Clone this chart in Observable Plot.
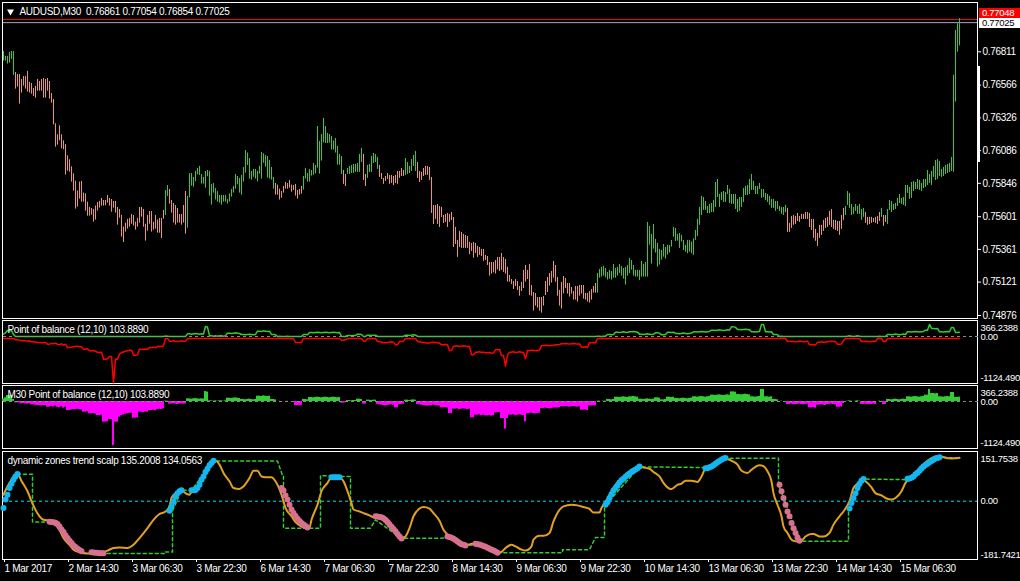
<!DOCTYPE html>
<html><head><meta charset="utf-8">
<script src="https://cdn.jsdelivr.net/npm/d3@7"></script>
<script src="https://cdn.jsdelivr.net/npm/@observablehq/plot@0.6"></script>
<style>
html,body{margin:0;padding:0;background:#000;}
#chart{position:relative;width:1020px;height:581px;background:#000;overflow:hidden;font-family:"Liberation Sans",Arial,sans-serif;}
#chart svg{position:absolute;left:0;}
#chart text{letter-spacing:-0.3px;}
.pbox{position:absolute;left:979px;width:41px;height:10px;font-size:9.5px;line-height:10px;padding-left:3px;box-sizing:border-box;letter-spacing:-0.3px;overflow:hidden;}
</style></head><body><div id="chart"></div>
<script>
// ---------- DATA ----------
const POINT = 0.00001;
const symbolName = "AUDUSD,M30";
const lastOpen = 0.76861, bidPrice = 0.77025, askPrice = 0.77048;
const priceTicks = [0.76811,0.76566,0.76326,0.76086,0.75846,0.75601,0.75361,0.75121,0.74876];
const timeTickBars = [0,32,64,96,128,160,192,224,256,288,320,352,384,416,448];
const timeLabels = ["1 Mar 2017","2 Mar 14:30","3 Mar 06:30","3 Mar 22:30","6 Mar 14:30","7 Mar 06:30","7 Mar 22:30","8 Mar 14:30","9 Mar 06:30","9 Mar 22:30","10 Mar 14:30","13 Mar 06:30","13 Mar 22:30","14 Mar 14:30","15 Mar 06:30"];

const highPts = [
76813,76777,76777,76806,76813,76813,76659,76645,76645,76608,
76630,76630,76667,76586,76579,76542,76557,76608,76593,76608,
76615,76608,76615,76593,76505,76461,76283,76202,76268,76202,
76158,76129,76048,76019,75967,75916,75862,75789,75855,75860,
75774,75769,75708,75669,75661,75654,75679,75705,75713,75735,
75720,75720,75757,75735,75727,75713,75713,75669,75654,75610,
75524,75554,75581,75588,75617,75610,75561,75588,75669,75669,
75654,75546,75610,75639,75639,75561,75610,75576,75588,75588,
75647,75793,75830,75801,75720,75698,75683,75661,75617,75617,
75683,75786,75750,75916,75918,75889,75933,75955,75970,75911,
75889,75933,75940,75933,75838,75845,75808,75786,75757,75757,
75757,75757,75727,75767,75801,75823,75911,75896,75882,75904,
75962,76087,76068,76028,75933,75948,75948,75933,75970,76072,
76063,76050,76043,76014,75962,75889,75845,75833,75803,75786,
75823,75852,75845,75867,75833,75830,75838,75793,75801,75823,
75896,75955,75918,75948,75940,75992,75977,76263,76153,76204,
76322,76263,76212,76204,76190,76156,76175,76116,76058,76043,
75940,75911,75955,75970,75977,75984,75984,75992,76058,76102,
76058,75911,75977,75984,76043,76065,76058,76036,75977,75918,
75882,75896,75918,75904,75904,75896,75904,75933,75933,75955,
75940,76028,75999,75970,76021,76050,76080,75999,75933,75926,
75955,75970,75970,75962,75889,75683,75683,75691,75676,75669,
75610,75617,75625,75617,75632,75595,75522,75427,75493,75485,
75471,75463,75456,75412,75405,75412,75405,75383,75375,75361,
75361,75317,75309,75265,75265,75265,75280,75302,75302,75331,
75302,75287,75229,75170,75140,75126,75140,75126,75089,75118,
75207,75243,75207,75251,75096,75045,75038,75008,75008,75008,
75016,75126,75155,75184,75199,75273,75243,75155,75060,75118,
75162,75148,75111,75111,75082,75052,75089,75089,75096,75096,
75096,75038,75038,75052,75067,75089,75111,75184,75214,75229,
75236,75221,75192,75207,75199,75251,75221,75229,75251,75236,
75221,75229,75243,75295,75280,75243,75207,75207,75207,75273,
75251,75265,75559,75529,75471,75544,75434,75405,75361,75353,
75397,75375,75390,75390,75427,75522,75515,75471,75478,75464,
75427,75390,75427,75427,75415,75439,75500,75581,75669,75750,
75742,75713,75676,75691,75698,75720,75852,75874,75764,75779,
75786,75779,75830,75801,75764,75764,75764,75728,75742,75742,
75808,75823,75830,75874,75911,75860,75823,75823,75845,75801,
75801,75772,75764,75750,75728,75728,75713,75713,75676,75669,
75669,75684,75662,75552,75603,75610,75603,75625,75603,75618,
75618,75632,75632,75625,75581,75581,75508,75478,75537,75537,
75574,75588,75596,75640,75654,75574,75574,75566,75566,75610,
75662,75676,75786,75772,75691,75669,75691,75676,75691,75654,
75662,75632,75596,75596,75596,75588,75596,75603,75632,75662,
75610,75610,75654,75720,75713,75691,75698,75735,75764,75735,
75742,75830,75830,75816,75852,75860,75852,75874,75867,75845,
75874,75874,75940,75911,75933,75970,76014,76021,76007,75948,
75963,75977,75985,75992,76036,76638,76968,77017,77054];

const lowPts = [
76743,76743,76721,76728,76755,76637,76537,76552,76427,76508,
76559,76537,76515,76508,76500,76483,76471,76522,76522,76522,
76471,76471,76522,76464,76434,76275,76111,76126,76158,76099,
76092,75906,75935,75928,75855,75789,75657,75671,75730,75708,
75708,75642,75605,75605,75612,75561,75576,75642,75664,75679,
75679,75681,75701,75679,75634,75664,75627,75539,75590,75451,
75412,75488,75510,75524,75546,75532,75502,75524,75554,75598,
75524,75422,75495,75546,75488,75502,75510,75480,75480,75441,
75583,75610,75750,75693,75627,75554,75539,75554,75554,75539,
75554,75473,75517,75740,75825,75818,75857,75908,75904,75840,
75840,75811,75894,75752,75686,75774,75723,75708,75701,75686,
75708,75708,75693,75708,75745,75774,75803,75835,75774,75759,
75855,75921,75977,75877,75869,75891,75877,75855,75913,75877,
75994,75965,75884,75877,75869,75803,75759,75759,75723,75737,
75774,75803,75803,75811,75781,75793,75752,75730,75759,75767,
75796,75877,75855,75855,75899,75906,75916,75957,75913,76009,
76143,76138,76138,76141,76090,76090,76068,75979,75979,75911,
75838,75823,75911,75911,75918,75918,75926,75926,75926,75999,
75867,75823,75882,75926,75926,75992,75999,75948,75889,75874,
75838,75860,75874,75838,75845,75830,75845,75838,75882,75896,
75896,75904,75911,75918,75933,75970,75933,75882,75852,75867,
75896,75904,75904,75867,75625,75544,75581,75544,75522,75595,
75551,75559,75522,75559,75573,75375,75397,75302,75375,75368,
75368,75368,75368,75322,75346,75297,75331,75302,75317,75309,
75273,75280,75243,75165,75180,75189,75180,75211,75199,75207,
75192,75180,75121,75121,75104,75067,75089,75060,75018,75052,
75074,75121,75140,75023,75018,74908,74945,74930,74908,74893,
74945,75023,75045,75092,75114,75150,75121,75018,74945,74923,
75035,75074,75033,75011,75033,74989,74989,74974,75018,75033,
74996,74989,74974,74967,74989,75040,75040,75040,75150,75158,
75165,75153,75136,75143,75136,75150,75150,75165,75184,75165,
75143,75099,75165,75184,75209,75165,75158,75158,75133,75158,
75158,75158,75158,75392,75253,75363,75334,75231,75246,75282,
75304,75290,75319,75334,75378,75451,75419,75422,75368,75415,
75353,75341,75329,75341,75329,75317,75427,75456,75537,75610,
75647,75647,75623,75623,75632,75632,75669,75742,75669,75720,
75706,75706,75764,75698,75691,75691,75654,75632,75640,75669,
75706,75757,75757,75764,75794,75794,75764,75764,75801,75735,
75742,75720,75706,75684,75662,75662,75640,75654,75640,75618,
75610,75630,75486,75486,75515,75537,75544,75566,75559,75581,
75581,75581,75581,75522,75500,75442,75420,75383,75442,75464,
75493,75515,75522,75537,75522,75508,75500,75493,75464,75508,
75574,75610,75684,75662,75610,75618,75640,75618,75618,75574,
75596,75552,75537,75544,75552,75559,75552,75544,75566,75596,
75530,75559,75544,75647,75632,75647,75654,75676,75698,75691,
75684,75676,75772,75728,75735,75786,75801,75801,75794,75786,
75808,75816,75830,75845,75830,75889,75867,75874,75896,75889,
75896,75911,75918,75926,75933,75928,76442,76809,76854];

const trendRuns = [[0,5,"up"],[6,80,"down"],[81,82,"up"],[83,91,"down"],[92,135,"up"],[136,149,"down"],[150,169,"up"],[170,171,"down"],[172,179,"up"],[180,181,"down"],[182,187,"up"],[188,200,"down"],[201,206,"up"],[207,296,"down"],[297,391,"up"],[392,420,"down"],[421,430,"up"],[431,438,"down"],[439,439,"up"],[440,441,"down"],[442,478,"up"]];

// Point of balance (12,10)
const balanceValues = [
60,90,147,140,147,50,-33,-33,-40,-57,
-50,-57,-65,-57,-81,-81,-90,-98,-98,-106,
-98,-98,-138,-138,-120,-130,-114,-140,-150,-130,
-163,-140,-220,-220,-212,-196,-196,-190,-196,-204,
-261,-261,-252,-301,-301,-293,-310,-342,-342,-335,
-505,-505,-497,-440,-440,-1080,-505,-505,-383,-342,
-330,-310,-300,-290,-285,-407,-407,-400,-261,-261,
-270,-255,-261,-220,-220,-212,-228,-196,-190,-196,
-180,10,8,-65,-65,-57,-65,-73,-65,-57,
-65,-60,65,65,57,65,73,65,57,65,
60,244,230,16,16,8,16,8,16,16,
8,16,81,81,73,81,90,81,73,49,
49,41,49,57,49,41,49,130,130,122,
138,130,122,130,49,49,41,0,4,0,
-4,0,4,0,-4,0,-98,-98,-106,-90,
49,49,41,98,98,90,98,106,98,90,
98,106,98,90,98,106,98,90,98,-41,
-41,-33,24,24,16,24,24,57,57,49,
-65,-65,33,33,24,33,33,-73,-81,-90,
-98,-106,-98,-90,-81,-90,-155,-155,-73,-73,
-65,33,33,24,33,41,33,-73,-81,-90,
-98,-106,-114,-106,-98,-90,-98,-106,-114,-155,
-155,-147,-155,-293,-293,-187,-187,-179,-196,-187,
-179,-187,-196,-187,-399,-399,-334,-334,-326,-342,
-334,-350,-350,-342,-358,-350,-277,-277,-269,-415,
-415,-676,-415,-334,-334,-326,-342,-334,-326,-334,
-342,-497,-293,-293,-285,-293,-301,-293,-285,-171,
-171,-163,-171,-179,-171,-163,-155,-155,-147,-130,
-130,-122,-130,-138,-130,-122,-130,-138,-130,-212,
-212,-204,-220,-106,-106,-98,-106,8,8,0,
8,8,49,49,41,49,106,106,98,106,
114,106,98,114,114,122,114,106,57,57,
49,57,65,57,49,57,90,90,82,40,
40,48,105,105,97,105,75,75,67,75,
83,75,67,75,83,115,115,107,115,123,
115,107,115,123,155,155,147,155,163,155,
147,155,163,155,235,235,227,170,170,162,
170,178,170,162,115,115,107,115,123,295,
295,115,115,107,115,50,50,42,0,8,
0,0,-73,-73,-65,-73,-81,-73,-65,-73,
-81,-73,-65,-155,-155,-147,-163,-90,-90,-82,
-90,-98,-73,-73,-65,-73,-81,-140,-140,-132,
-50,0,8,16,8,0,8,16,8,-73,
-73,-65,-73,-81,-73,-65,-73,0,8,0,
-73,-73,50,50,42,50,58,50,42,50,
58,50,115,115,107,115,123,115,107,115,
123,155,155,295,195,195,187,195,115,115,
107,115,123,115,220,220,100,100,103.889];
const balanceScale = [-1124.49, 366.2388];
const balanceAxisLabels = ["366.2388","0.00","-1124.490"];

// dynamic zones trend scalp
const dzBars = [0,2,4,6,7,9,12,14,16,18,20,23,25,28,30,33,35,38,40,44,48,52,55,58,62,65,68,72,75,78,81,83,84,86,88,89,91,93,94,97,99,102,104,106,108,110,113,115,118,120,123,125,127,129,131,134,136,139,141,144,146,149,151,153,154,157,159,162,164,167,168,170,172,174,175,178,180,183,185,187,190,193,195,198,199,201,203,205,208,210,213,215,218,220,222,224,227,229,232,234,237,239,242,244,247,249,251,254,256,259,261,264,265,268,270,273,275,278,280,284,287,290,293,295,298,299,301,304,306,309,312,315,318,320,323,325,328,330,333,334,337,339,341,344,347,349,351,354,358,360,364,367,369,372,374,378,380,382,384,385,387,389,390,392,394,396,399,401,404,405,408,410,413,415,418,420,423,425,428,429,431,434,436,439,441,444,446,449,451,454,456,459,462,465,468,470,474,476,478];
const dzValues = [20,46,67,83,86,63,31,0,-27,-47,-58,-61,-65,-89,-115,-136,-151,-159,-162,-163,-162,-154,-146,-144,-146,-136,-115,-84,-58,-40,-32,-16,10,25,31,33,25,20,29,36,62,93,119,126,114,88,62,41,38,46,72,95,95,77,75,75,62,20,-21,-47,-65,-79,-84,-82,-58,-11,31,57,75,75,75,62,31,-6,-26,-32,-37,-44,-50,-47,-50,-63,-89,-110,-117,-110,-84,-47,-23,-18,-23,-37,-61,-89,-104,-115,-127,-136,-136,-133,-136,-141,-148,-156,-162,-158,-146,-136,-141,-151,-154,-141,-120,-108,-108,-99,-63,-27,-16,-11,-13,-18,-24,-35,-35,-21,-3,31,51,72,88,101,108,105,101,91,77,57,39,38,51,55,64,64,60,77,103,112,126,135,126,114,95,88,98,112,109,93,62,25,-11,-47,-79,-99,-120,-125,-123,-110,-102,-102,-110,-110,-99,-73,-47,-32,0,41,60,70,62,43,25,18,10,5,10,31,57,72,88,109,126,137,141,137,133,134,135.2008];
const levelBars = [7,14.5,14.5,24,39,41,81,81,84.5,84.5,89,94,105,137,139.5,140,140,158.5,158.5,168,173.5,173.5,183.5,186,199,222,231,236,247,279.5,279.5,293,296,300.5,300.5,318,351,361,387.5,387.5,398.5,422.5,422.5,430,452,468.5,478];
const levelValues = [84,84,-65,-65,-156,-163,-163,-158,-158,-30,34,34,125,125,80,80,-84,-84,80,77,77,-84,-84,-58,-116,-115,-138,-136,-161,-161,-151,-151,-113,-113,-16,107,105,134,134,51,-125,-125,-26,69,67,137,134.0563];
const upDotRuns = [
  [0,[-21,5,20,41,54,67,77,85]],
  [83,[-30,-16,-1,15,25,31,34]],
  [94,[34,34,35,41,51,67,77,91,101,112,119,126]],
  [164,[75,75,75,75,75]],
  [301,[-11,-3,10,22,33,41,49,58,65,70,76,82,86,91,95,99,103,108]],
  [351,[103,103,106,108,112,117,121,125,129,133,135]],
  [423,[-23,-6,10,25,41,54,64,69]],
  [452,[70,71,73,77,84,89,95,102,108,113,117,121,125,129,133,135,137]]];
const downDotRuns = [
  [23,[-64,-65,-66,-67,-71,-79,-88,-96,-106,-115,-123,-130,-138,-143,-148,-152,-156]],
  [44,[-159,-160,-161,-161,-162,-162,-162]],
  [139,[41,33,18,5,-11,-26,-37,-46,-55,-62,-68,-73,-77,-82]],
  [186,[-47,-48,-49,-50,-53,-59,-66,-73,-80,-87,-94,-102,-110,-116]],
  [222,[-110,-112,-114,-117,-121,-126,-130,-134,-136,-138]],
  [236,[-133,-134,-135,-137,-140,-142,-145,-148,-151,-154,-157,-161]],
  [388,[51,31,10,-11,-32,-47,-68,-84,-99,-113,-123]]];
const dzScale = [-181.7421, 151.7538];
const dzAxisLabels = ["151.7538","0.00","-181.7421"];

// ---------- COLOURS ----------
const C = {up:"#32cd32", down:"#eca41e", red:"#ff0000", magenta:"#ff00ff", orange:"#e2a11c",
  cyan:"#12b6f0", pink:"#d8708f", zero:"#00e8f0", grey:"#8c8c8c", bid:"#a8a8b4"};

// ---------- BUILD ----------
const trendOf = i => trendRuns.find(r => i >= r[0] && i <= r[1])[2];
const bars = highPts.map((h, i) => ({i, high: h * POINT, low: lowPts[i] * POINT, color: trendOf(i) === "up" ? C.up : C.down}));
const bal = balanceValues.map((v, i) => ({i, v}));
const dz = dzBars.map((b, k) => ({i: b, v: dzValues[k]}));
const levels = levelBars.map((b, k) => ({i: b, v: levelValues[k]}));
const expand = runs => runs.flatMap(([s, vals]) => vals.map((v, k) => ({i: s + k, v})));
const upDots = expand(upDotRuns), downDots = expand(downDotRuns);

const W = 1020, ML = 3, MR = 43;
const xDomain = [0, 487];
const baseStyle = {background: "transparent", color: "#fff", fontFamily: "'Liberation Sans', Arial, sans-serif", fontSize: "10px", overflow: "visible"};
const frame = (o = {}) => Plot.frame({stroke: "#fff", insetLeft: -1, insetTop: -1, insetBottom: -1, ...o});
const chart = document.getElementById("chart");
function place(svg, top) { svg.style.top = top + "px"; chart.appendChild(svg); return svg; }

const last = bars[bars.length - 1];
const mainTitle = `${symbolName}  ${lastOpen.toFixed(5)} ${last.high.toFixed(5)} ${last.low.toFixed(5)} ${bidPrice.toFixed(5)}`;

const main = Plot.plot({
  width: W, height: 320, marginLeft: ML, marginRight: MR, marginTop: 3, marginBottom: 3,
  style: baseStyle,
  x: {domain: xDomain, axis: null},
  y: {domain: [0.748613, 0.771654], axis: null},
  marks: [
    frame(),
    Plot.ruleY([askPrice], {stroke: C.red}),
    Plot.ruleY([bidPrice], {stroke: C.bid}),
    Plot.ruleX(bars, {x: "i", y1: "low", y2: "high", stroke: "color"}),
    Plot.axisY(priceTicks, {anchor: "right", label: null, tickSize: 3, tickPadding: 2, tickFormat: d => d.toFixed(5), stroke: "#fff", fill: "#fff"}),
    Plot.dot([0], {frameAnchor: "top-left", dx: 7, dy: 8, symbol: "triangle", rotate: 180, r: 2.6, fill: "#fff", stroke: null}),
    Plot.text([mainTitle], {frameAnchor: "top-left", dx: 16, dy: 8, lineAnchor: "middle", textAnchor: "start", fill: "#fff"})
  ]
});
place(main, 0);

const balTitle = `Point of balance (12,10) ${balanceValues[balanceValues.length - 1].toFixed(4)}`;
function sideLabels(scale, labels) {
  const o = {anchor: "right", label: null, tickSize: 0, tickPadding: 3, fill: "#fff", fontSize: 9.5};
  return [
    Plot.axisY([scale[1]], {...o, dy: 6, tickFormat: () => labels[0]}),
    Plot.axisY([0], {...o, tickFormat: () => labels[1]}),
    Plot.axisY([scale[0]], {...o, dy: -5, tickFormat: () => labels[2]})
  ];
}
const p2 = Plot.plot({
  width: W, height: 67, marginLeft: ML, marginRight: MR, marginTop: 3, marginBottom: 3,
  style: baseStyle,
  x: {domain: xDomain, axis: null},
  y: {domain: balanceScale, axis: null},
  marks: [
    frame(),
    Plot.lineY(bal, {x: "i", y: d => Math.max(d.v, 0), stroke: C.up}),
    Plot.lineY(bal, {x: "i", y: d => Math.min(d.v, 0), stroke: C.red, dy: 2}),
    Plot.ruleY([0], {stroke: C.grey, strokeDasharray: "3,3", insetRight: -4}),
    ...sideLabels(balanceScale, balanceAxisLabels),
    Plot.text([balTitle], {frameAnchor: "top-left", dx: 4, dy: 8, lineAnchor: "middle", textAnchor: "start", fill: "#fff"})
  ]
});
place(p2, 318);

const p3 = Plot.plot({
  width: W, height: 67, marginLeft: ML, marginRight: MR, marginTop: 3, marginBottom: 3,
  style: baseStyle,
  x: {domain: xDomain, axis: null},
  y: {domain: balanceScale, axis: null},
  marks: [
    frame(),
    Plot.rectY(bal, {x1: d => d.i - 0.5, x2: d => d.i + 0.5, y: "v", fill: d => d.v >= 0 ? C.up : C.magenta}),
    Plot.ruleY([0], {stroke: C.grey, strokeDasharray: "3,3", insetRight: -4}),
    ...sideLabels(balanceScale, balanceAxisLabels),
    Plot.text(["M30 " + balTitle], {frameAnchor: "top-left", dx: 4, dy: 8, lineAnchor: "middle", textAnchor: "start", fill: "#fff"})
  ]
});
place(p3, 383);

const dzTitle = `dynamic zones trend scalp ${dzValues[dzValues.length - 1].toFixed(4)} ${levelValues[levelValues.length - 1].toFixed(4)}`;
const p4 = Plot.plot({
  width: W, height: 133, marginLeft: ML, marginRight: MR, marginTop: 4, marginBottom: 22,
  style: baseStyle,
  x: {domain: xDomain, axis: null},
  y: {domain: dzScale, axis: null},
  marks: [
    frame({insetBottom: 0}),
    Plot.ruleY([0], {stroke: C.zero, strokeDasharray: "3,3"}),
    Plot.line(levels, {x: "i", y: "v", stroke: C.up, strokeDasharray: "3,3"}),
    Plot.line(dz, {x: "i", y: "v", stroke: C.orange, strokeWidth: 2, curve: "monotone-x"}),
    Plot.dot(upDots, {x: "i", y: "v", r: 3, fill: C.cyan, stroke: null}),
    Plot.dot(downDots, {x: "i", y: "v", r: 3, fill: C.pink, stroke: null}),
    ...sideLabels(dzScale, dzAxisLabels),
    Plot.axisX(timeTickBars, {anchor: "bottom", label: null, tickSize: 3, tickPadding: 2, textAnchor: "start", dx: 1,
      tickFormat: d => timeLabels[timeTickBars.indexOf(d)], stroke: "#fff", fill: "#fff"}),
    Plot.text([dzTitle], {frameAnchor: "top-left", dx: 4, dy: 8, lineAnchor: "middle", textAnchor: "start", fill: "#fff"})
  ]
});
place(p4, 448);

// price labels on the right axis (ask box sits just above the bid box)
const yMain = main.scale("y");
const bidTop = yMain.apply(bidPrice) - 4.5;
function priceBox(price, top, bg, fg) {
  const d = document.createElement("div");
  d.className = "pbox";
  d.style.top = top + "px";
  d.style.background = bg; d.style.color = fg;
  d.textContent = price.toFixed(5);
  chart.appendChild(d);
}
priceBox(askPrice, bidTop - 10, C.red, "#fff");
priceBox(bidPrice, bidTop, "#fff", "#000");
const marker = document.createElement("div");
marker.style.cssText = "position:absolute;left:977px;top:66px;width:3px;height:96px;background:#fff;";
chart.appendChild(marker);
</script></body></html>
